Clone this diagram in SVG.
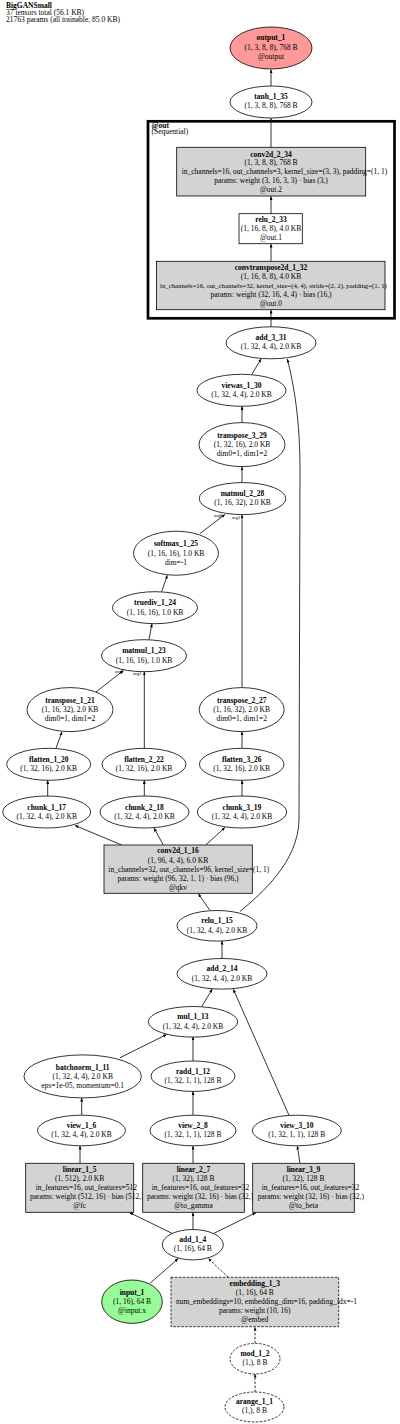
<svg xmlns="http://www.w3.org/2000/svg" width="400" height="1424" viewBox="0 0 400 1424">
<defs>
<marker id="ah" markerUnits="userSpaceOnUse" markerWidth="4" markerHeight="4" refX="3.6" refY="1.5" orient="auto">
<path d="M0,0 L3.6,1.5 L0,3 z" fill="#000"/>
</marker>
<style>
text{font-family:"Liberation Serif","Times New Roman",serif;font-size:7.5px;text-anchor:middle;fill:#000}
.b{font-weight:bold}
.s{text-anchor:start}
.a{font-size:4.8px;text-anchor:start}
.n{stroke:#000;stroke-width:0.8;fill:#fff}
.g{fill:#d3d3d3}
.d{stroke-dasharray:2.5,1.5}
.e{stroke:#000;stroke-width:0.8;fill:none;marker-end:url(#ah)}
</style>
</defs>
<rect width="400" height="1424" fill="#fff"/>
<g id="header">
<text class="b s" x="6" y="8.2">BigGANSmall</text>
<text class="s" x="6" y="14.9">37 tensors total (56.1 KB)</text>
<text class="s" x="6" y="21.8">21763 params (all trainable, 85.0 KB)</text>
</g>
<g id="cluster_sfout">
<rect x="148" y="121.3" width="246.5" height="197" fill="none" stroke="#000" stroke-width="2.7"/>
<text class="b s" x="151.5" y="127.5">@out</text>
<text class="s" x="151.5" y="133.8">(Sequential)</text>
</g>
<g id="edges">
<line class="e" x1="271" y1="86" x2="271" y2="69.5"/>
<line class="e" x1="271" y1="147.3" x2="271" y2="118.3"/>
<line class="e" x1="271" y1="213.7" x2="271" y2="196.3"/>
<line class="e" x1="271" y1="261.3" x2="271" y2="244"/>
<line class="e" x1="271" y1="327" x2="271" y2="310"/>
<line class="e" x1="251.7" y1="374.5" x2="261.2" y2="358.8"/>
<line class="e" x1="242" y1="422.5" x2="242" y2="406.3"/>
<line class="e" x1="242" y1="482.5" x2="242" y2="466.8"/>
<line class="e" x1="200" y1="533.5" x2="225" y2="514.5"/>
<line class="e" x1="242" y1="687.5" x2="242" y2="514.8"/>
<line class="e" x1="161.7" y1="591.5" x2="167.3" y2="575.3"/>
<line class="e" x1="149" y1="639.5" x2="152" y2="623.8"/>
<line class="e" x1="96" y1="692" x2="123.3" y2="670.5"/>
<line class="e" x1="144.3" y1="752" x2="144.3" y2="671.8"/>
<line class="e" x1="56" y1="748.3" x2="62" y2="731.8"/>
<line class="e" x1="47.7" y1="796" x2="47.7" y2="780.3"/>
<line class="e" x1="144.3" y1="796" x2="144.3" y2="780.3"/>
<line class="e" x1="242" y1="796" x2="242" y2="780.3"/>
<line class="e" x1="242" y1="748" x2="242" y2="731.8"/>
<line class="e" x1="121.7" y1="845" x2="75" y2="825.5"/>
<line class="e" x1="163.3" y1="845" x2="154" y2="828"/>
<line class="e" x1="205.7" y1="845" x2="225" y2="827.5"/>
<line class="e" x1="210" y1="910.5" x2="198.3" y2="893.8"/>
<path class="e" d="M240,911.5 C262,893 298,862 299,820 L300,470 C300,420 294,385 287.3,359"/>
<line class="e" x1="222" y1="958.5" x2="222" y2="941"/>
<line class="e" x1="201.7" y1="1006.7" x2="212.3" y2="989"/>
<line class="e" x1="289" y1="1115.3" x2="233.3" y2="989.3"/>
<line class="e" x1="120" y1="1057.7" x2="166.7" y2="1034.5"/>
<line class="e" x1="193" y1="1061" x2="193" y2="1036.8"/>
<line class="e" x1="81.7" y1="1115.3" x2="81.7" y2="1098"/>
<line class="e" x1="193" y1="1115.3" x2="193" y2="1091.3"/>
<line class="e" x1="80" y1="1163.3" x2="80" y2="1146"/>
<line class="e" x1="193" y1="1163.3" x2="193" y2="1146"/>
<line class="e" x1="300" y1="1163.3" x2="297.3" y2="1146"/>
<line class="e" x1="172" y1="1233.3" x2="129.5" y2="1212.6"/>
<line class="e" x1="193" y1="1229.7" x2="193" y2="1212.6"/>
<line class="e" x1="214" y1="1233.3" x2="256" y2="1212.6"/>
<line class="e" x1="150" y1="1283.3" x2="178.3" y2="1258.5"/>
<line class="e d" x1="228.3" y1="1277.3" x2="208.3" y2="1258.5"/>
<line class="e d" x1="255" y1="1343.3" x2="255" y2="1327"/>
<line class="e d" x1="255" y1="1392" x2="255" y2="1374"/>
<text class="a" x="214" y="517">arg0</text>
<text class="a" x="232" y="518.5">arg1</text>
<text class="a" x="115" y="672.5">arg0</text>
<text class="a" x="133" y="674.5">arg1</text>
</g>
<g id="output_1">
<ellipse class="n" cx="271" cy="48" rx="41" ry="21" style="fill:#ff9999"/>
<text class="b" x="271" y="40.2">output_1</text>
<text x="271" y="49.5">(1, 3, 8, 8), 768 B</text>
<text x="271" y="58.7">@output</text>
</g>
<g id="tanh_1_35">
<ellipse class="n" cx="271" cy="102" rx="41" ry="16"/>
<text class="b" x="271" y="98.5">tanh_1_35</text>
<text x="271" y="107.8">(1, 3, 8, 8), 768 B</text>
</g>
<g id="conv2d_2_34">
<rect class="n g" x="176.7" y="147.3" width="189" height="48.7"/>
<text class="b" x="271" y="156.5">conv2d_2_34</text>
<text x="271" y="165.2">(1, 3, 8, 8), 768 B</text>
<text class="s" x="181.7" y="174.2">in_channels=16, out_channels=3, kernel_size=(3, 3), padding=(1, 1)</text>
<text x="271" y="183.2">params: weight (3, 16, 3, 3) · bias (3,)</text>
<text x="271" y="192.3">@out.2</text>
</g>
<g id="relu_2_33">
<rect class="n" x="239" y="213.7" width="63.3" height="30"/>
<text class="b" x="271" y="221.5">relu_2_33</text>
<text x="271" y="230.8">(1, 16, 8, 8), 4.0 KB</text>
<text x="271" y="240.1">@out.1</text>
</g>
<g id="convtranspose2d_1_32">
<rect class="n g" x="156.5" y="261.3" width="228.5" height="48.4"/>
<text class="b" x="271" y="269.8">convtranspose2d_1_32</text>
<text x="271" y="278.8">(1, 16, 8, 8), 4.0 KB</text>
<text class="s" x="160" y="287.8" style="font-size:6.8px">in_channels=16, out_channels=32, kernel_size=(4, 4), stride=(2, 2), padding=(1, 1)</text>
<text x="271" y="296.6">params: weight (32, 16, 4, 4) · bias (16,)</text>
<text x="271" y="305.5">@out.0</text>
</g>
<g id="add_3_31">
<ellipse class="n" cx="271" cy="342.8" rx="45" ry="16"/>
<text class="b" x="271" y="339.8">add_3_31</text>
<text x="271" y="348.8">(1, 32, 4, 4), 2.0 KB</text>
</g>
<g id="viewas_1_30">
<ellipse class="n" cx="241.5" cy="390.3" rx="44.5" ry="16"/>
<text class="b" x="241.5" y="387.8">viewas_1_30</text>
<text x="241.5" y="396.8">(1, 32, 4, 4), 2.0 KB</text>
</g>
<g id="transpose_3_29">
<ellipse class="n" cx="242" cy="444.6" rx="43" ry="22"/>
<text class="b" x="242" y="437.5">transpose_3_29</text>
<text x="242" y="446.8">(1, 32, 16), 2.0 KB</text>
<text x="242" y="455.8">dim0=1, dim1=2</text>
</g>
<g id="matmul_2_28">
<ellipse class="n" cx="242.5" cy="498.6" rx="43.3" ry="16"/>
<text class="b" x="242.5" y="495.8">matmul_2_28</text>
<text x="242.5" y="505.3">(1, 16, 32), 2.0 KB</text>
</g>
<g id="softmax_1_25">
<ellipse class="n" cx="176" cy="553.2" rx="42.5" ry="22"/>
<text class="b" x="176" y="546.2">softmax_1_25</text>
<text x="176" y="555.5">(1, 16, 16), 1.0 KB</text>
<text x="176" y="564.5">dim=-1</text>
</g>
<g id="truediv_1_24">
<ellipse class="n" cx="155" cy="607.7" rx="42.5" ry="16"/>
<text class="b" x="155" y="605.2">truediv_1_24</text>
<text x="155" y="614.5">(1, 16, 16), 1.0 KB</text>
</g>
<g id="matmul_1_23">
<ellipse class="n" cx="144" cy="655.7" rx="42.5" ry="16"/>
<text class="b" x="144" y="653.2">matmul_1_23</text>
<text x="144" y="662.5">(1, 16, 16), 1.0 KB</text>
</g>
<g id="transpose_1_21">
<ellipse class="n" cx="70" cy="709.6" rx="43" ry="22"/>
<text class="b" x="70" y="702.5">transpose_1_21</text>
<text x="70" y="711.8">(1, 16, 32), 2.0 KB</text>
<text x="70" y="721.2">dim0=1, dim1=2</text>
</g>
<g id="transpose_2_27">
<ellipse class="n" cx="241.7" cy="709.6" rx="42.5" ry="22"/>
<text class="b" x="241.7" y="702.5">transpose_2_27</text>
<text x="241.7" y="711.8">(1, 16, 32), 2.0 KB</text>
<text x="241.7" y="721.2">dim0=1, dim1=2</text>
</g>
<g id="flatten_1_20">
<ellipse class="n" cx="48.7" cy="764.3" rx="42" ry="16"/>
<text class="b" x="48.7" y="761.8">flatten_1_20</text>
<text x="48.7" y="771.2">(1, 32, 16), 2.0 KB</text>
</g>
<g id="flatten_2_22">
<ellipse class="n" cx="144" cy="764.3" rx="42" ry="16"/>
<text class="b" x="144" y="761.8">flatten_2_22</text>
<text x="144" y="771.2">(1, 32, 16), 2.0 KB</text>
</g>
<g id="flatten_3_26">
<ellipse class="n" cx="241.7" cy="764.3" rx="42.3" ry="16"/>
<text class="b" x="241.7" y="761.8">flatten_3_26</text>
<text x="241.7" y="771.2">(1, 32, 16), 2.0 KB</text>
</g>
<g id="chunk_1_17">
<ellipse class="n" cx="46.7" cy="812" rx="44" ry="16"/>
<text class="b" x="46.7" y="809.5">chunk_1_17</text>
<text x="46.7" y="818.8">(1, 32, 4, 4), 2.0 KB</text>
</g>
<g id="chunk_2_18">
<ellipse class="n" cx="144.5" cy="812" rx="44.5" ry="16"/>
<text class="b" x="144.5" y="809.5">chunk_2_18</text>
<text x="144.5" y="818.8">(1, 32, 4, 4), 2.0 KB</text>
</g>
<g id="chunk_3_19">
<ellipse class="n" cx="242" cy="812" rx="44.7" ry="16"/>
<text class="b" x="242" y="809.5">chunk_3_19</text>
<text x="242" y="818.8">(1, 32, 4, 4), 2.0 KB</text>
</g>
<g id="conv2d_1_16">
<rect class="n g" x="104" y="845" width="148.3" height="48.3"/>
<text class="b" x="178" y="853.2">conv2d_1_16</text>
<text x="178" y="862.5">(1, 96, 4, 4), 6.0 KB</text>
<text class="s" x="108.3" y="871.5">in_channels=32, out_channels=96, kernel_size=(1, 1)</text>
<text x="178" y="880.8">params: weight (96, 32, 1, 1) · bias (96,)</text>
<text x="178" y="889.5">@qkv</text>
</g>
<g id="relu_1_15">
<ellipse class="n" cx="217" cy="925.8" rx="40" ry="15.3"/>
<text class="b" x="217" y="923.2">relu_1_15</text>
<text x="217" y="932.5">(1, 32, 4, 4), 2.0 KB</text>
</g>
<g id="add_2_14">
<ellipse class="n" cx="222" cy="973.8" rx="45" ry="15.3"/>
<text class="b" x="222" y="971.2">add_2_14</text>
<text x="222" y="980.5">(1, 32, 4, 4), 2.0 KB</text>
</g>
<g id="mul_1_13">
<ellipse class="n" cx="193" cy="1021.8" rx="44.7" ry="15.3"/>
<text class="b" x="193" y="1019.2">mul_1_13</text>
<text x="193" y="1028.5">(1, 32, 4, 4), 2.0 KB</text>
</g>
<g id="batchnorm_1_11">
<ellipse class="n" cx="82.7" cy="1076.4" rx="58.7" ry="21.5"/>
<text class="b" x="82.7" y="1069.5">batchnorm_1_11</text>
<text x="82.7" y="1078.8">(1, 32, 4, 4), 2.0 KB</text>
<text x="82.7" y="1087.8">eps=1e-05, momentum=0.1</text>
</g>
<g id="radd_1_12">
<ellipse class="n" cx="193" cy="1076.2" rx="42" ry="15.2"/>
<text class="b" x="193" y="1073.8">radd_1_12</text>
<text x="193" y="1082.8">(1, 32, 1, 1), 128 B</text>
</g>
<g id="view_1_6">
<ellipse class="n" cx="81.5" cy="1130.5" rx="44" ry="15.3"/>
<text class="b" x="81.5" y="1127.8">view_1_6</text>
<text x="81.5" y="1136.8">(1, 32, 4, 4), 2.0 KB</text>
</g>
<g id="view_2_8">
<ellipse class="n" cx="193" cy="1130.5" rx="43" ry="15.3"/>
<text class="b" x="193" y="1127.8">view_2_8</text>
<text x="193" y="1136.8">(1, 32, 1, 1), 128 B</text>
</g>
<g id="view_3_10">
<ellipse class="n" cx="296.8" cy="1130.5" rx="44.5" ry="15.3"/>
<text class="b" x="296.8" y="1127.8">view_3_10</text>
<text x="296.8" y="1136.8">(1, 32, 1, 1), 128 B</text>
</g>
<g id="linear_1_5">
<rect class="n g" x="25.7" y="1163.3" width="108" height="49"/>
<text class="b" x="79.7" y="1171.5">linear_1_5</text>
<text x="79.7" y="1180.8">(1, 512), 2.0 KB</text>
<text class="s" x="35.7" y="1190.2">in_features=16, out_features=512</text>
<text class="s" x="30" y="1199.2">params: weight (512, 16) · bias (512,)</text>
<text x="79.7" y="1208.2">@fc</text>
</g>
<g id="linear_2_7">
<rect class="n g" x="142.7" y="1163.3" width="101.6" height="49"/>
<text class="b" x="193.5" y="1171.5">linear_2_7</text>
<text x="193.5" y="1180.8">(1, 32), 128 B</text>
<text class="s" x="151.7" y="1190.2">in_features=16, out_features=32</text>
<text class="s" x="147" y="1199.2">params: weight (32, 16) · bias (32,)</text>
<text x="193.5" y="1208.2">@to_gamma</text>
</g>
<g id="linear_3_9">
<rect class="n g" x="252.7" y="1163.3" width="101.6" height="49"/>
<text class="b" x="303.5" y="1171.5">linear_3_9</text>
<text x="303.5" y="1180.8">(1, 32), 128 B</text>
<text class="s" x="261.7" y="1190.2">in_features=16, out_features=32</text>
<text class="s" x="257.7" y="1199.2">params: weight (32, 16) · bias (32,)</text>
<text x="303.5" y="1208.2">@to_beta</text>
</g>
<g id="add_1_4">
<ellipse class="n" cx="192.8" cy="1244.7" rx="30.5" ry="15.2"/>
<text class="b" x="192.8" y="1241.5">add_1_4</text>
<text x="192.8" y="1250.8">(1, 16), 64 B</text>
</g>
<g id="input_1">
<ellipse class="n" cx="132" cy="1301.7" rx="30.3" ry="21.7" style="fill:#98fb98"/>
<text class="b" x="132" y="1294.5">input_1</text>
<text x="132" y="1303.8">(1, 16), 64 B</text>
<text x="132" y="1312.8">@input.x</text>
</g>
<g id="embedding_1_3">
<rect class="n g d" x="171" y="1277.3" width="167.7" height="49.4"/>
<text class="b" x="254.8" y="1285.8">embedding_1_3</text>
<text x="254.8" y="1294.5">(1, 16), 64 B</text>
<text class="s" x="176" y="1303.8">num_embeddings=10, embedding_dim=16, padding_idx=-1</text>
<text x="254.8" y="1312.8">params: weight (10, 16)</text>
<text x="254.8" y="1321.8">@embed</text>
</g>
<g id="mod_1_2">
<ellipse class="n d" cx="255" cy="1358.7" rx="25" ry="15.3"/>
<text class="b" x="255" y="1355.8">mod_1_2</text>
<text x="255" y="1365.2">(1,), 8 B</text>
</g>
<g id="arange_1_1">
<ellipse class="n d" cx="254.5" cy="1407" rx="29.5" ry="15"/>
<text class="b" x="254.5" y="1403.5">arange_1_1</text>
<text x="254.5" y="1412.8">(1,), 8 B</text>
</g>
</svg>
